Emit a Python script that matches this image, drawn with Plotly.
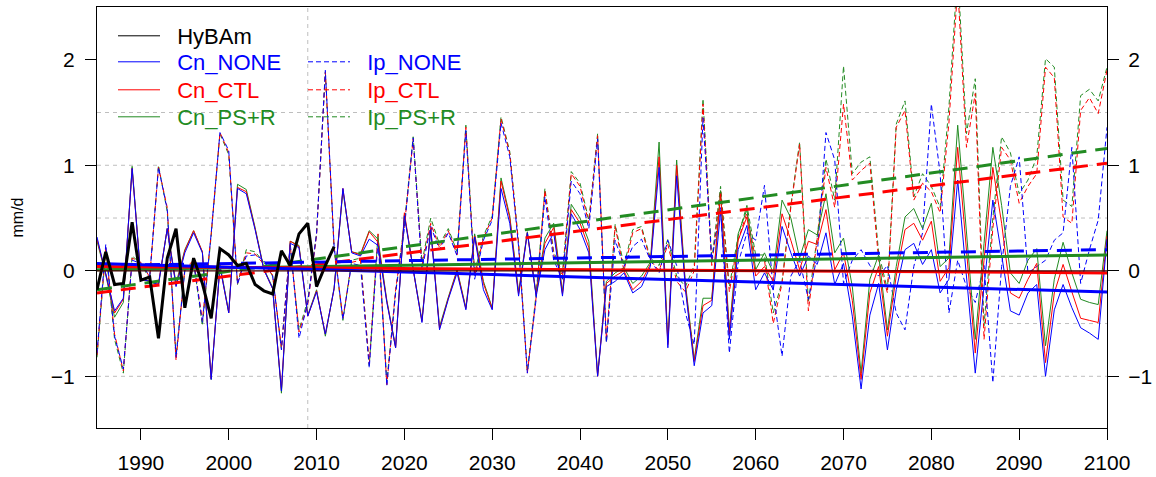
import plotly.graph_objects as go

# ---------------- data ----------------
YEARS = list(range(1985, 2101))
HYBAM_YEARS = list(range(1985, 2013))

HYBAM = [-0.18, 0.18, -0.13, -0.12, 0.46, -0.09, -0.06, -0.64, 0.12, 0.40,
         -0.35, 0.12, -0.12, -0.45, 0.21, 0.15, 0.05, 0.07, -0.13, -0.19,
         -0.22, 0.19, 0.05, 0.35, 0.45, -0.15, 0.05, 0.23]

CN_NONE = [0.32, -0.02, -0.38, -0.26, 0.97, -0.08, -0.10, -0.13, 0.40, -0.15,
           0.17, 0.36, 0.17, -1.03, 0.04, -0.40, 0.78, 0.73, 0.39, 0.01,
           -0.17, -1.14, 0.26, 0.22, -0.43, -0.20, -0.60, -0.17, 0.78, 0.17,
           0.14, 0.30, 0.24, -0.30, -0.73, 0.52, 0.00, -0.49, 0.39, -0.56,
           -0.27, -0.02, -0.37, 0.32, -0.18, -0.37, 0.78, 0.45, -0.24, 0.36,
           -0.24, 0.20, 0.36, -0.24, 0.54, 0.39, 0.17, -1.00, -0.15, -0.10,
           -0.02, -0.21, -0.15, 0.04, 0.98, -0.73, 0.90, -0.18, -0.90, -0.40,
           -0.33, 0.57, -0.65, 0.20, 0.43, -0.18, -0.02, -0.18, 0.42, 0.17,
           -0.05, 0.14, 0.06, 0.36, -0.13, 0.07, -0.43, -1.12, -0.42, -0.12,
           -0.75, -0.18, 0.20, 0.26, 0.06, 0.20, -0.21, -0.08, 0.86, -0.05,
           -0.97, -0.15, 0.67, 0.15, -0.38, -0.42, -0.21, -0.13, -1.00, -0.37,
           -0.13, -0.35, -0.54, -0.59, -0.65, 0.30]

CN_CTL = [0.30, -0.03, -0.40, -0.27, 0.97, -0.08, -0.10, -0.12, 0.40, -0.14,
          0.19, 0.38, 0.18, -1.02, 0.04, -0.40, 0.79, 0.75, 0.40, 0.01,
          -0.17, -1.13, 0.28, 0.23, -0.43, -0.19, -0.60, -0.17, 0.78, 0.18,
          0.15, 0.37, 0.27, -0.29, -0.73, 0.55, 0.01, -0.48, 0.41, -0.55,
          -0.26, 0.00, -0.36, 0.33, -0.12, -0.36, 0.85, 0.50, -0.22, 0.36,
          -0.23, 0.26, 0.41, -0.22, 0.58, 0.45, 0.22, -1.00, -0.12, -0.05,
          0.00, -0.18, -0.10, 0.06, 1.08, -0.70, 1.00, -0.15, -0.86, -0.33,
          -0.28, 0.73, -0.60, 0.29, 0.51, -0.05, 0.04, -0.10, 0.54, 0.29,
          0.01, 0.28, 0.25, 0.58, 0.01, 0.17, -0.28, -1.03, -0.21, 0.04,
          -0.62, -0.05, 0.39, 0.45, 0.29, 0.47, -0.10, 0.03, 1.17, 0.17,
          -0.78, 0.10, 0.98, 0.45, -0.21, -0.26, -0.08, 0.07, -0.87, -0.21,
          0.06, -0.20, -0.45, -0.47, -0.49, 0.33]

CN_PSR = [0.28, -0.04, -0.44, -0.30, 0.99, -0.07, -0.10, -0.14, 0.40, -0.12,
          0.20, 0.38, 0.18, -1.03, 0.06, -0.39, 0.82, 0.77, 0.41, 0.02,
          -0.16, -1.16, 0.28, 0.24, -0.42, -0.18, -0.62, -0.16, 0.76, 0.18,
          0.16, 0.38, 0.30, -0.28, -0.72, 0.53, 0.02, -0.47, 0.40, -0.53,
          -0.25, 0.01, -0.35, 0.35, -0.10, -0.35, 0.88, 0.52, -0.20, 0.37,
          -0.22, 0.31, 0.45, -0.20, 0.63, 0.50, 0.28, -0.99, -0.10, -0.02,
          0.03, -0.12, -0.05, 0.08, 1.22, -0.68, 1.05, -0.12, -0.84, -0.26,
          -0.26, 0.76, -0.56, 0.35, 0.58, 0.01, 0.17, -0.02, 0.67, 0.50,
          0.12, 0.39, 0.34, 0.73, 0.17, 0.31, -0.15, -0.97, -0.08, 0.15,
          -0.56, 0.04, 0.51, 0.59, 0.40, 0.64, 0.04, 0.12, 1.38, 0.35,
          -0.65, 0.26, 1.17, 0.62, -0.02, -0.12, 0.10, 0.21, -0.71, -0.08,
          0.27, -0.02, -0.27, -0.30, -0.32, 0.38]

IP_NONE = [-0.78, 0.25, -0.62, -0.93, 0.10, 0.07, -0.05, 0.98, 0.58, -0.82,
           0.00, 0.08, -0.49, 0.35, 1.31, 1.14, -0.13, 0.14, 0.15, 0.10,
           -0.05, -0.75, 0.26, -0.64, -0.30, 0.35, 1.90, 0.23, -0.46, 0.07,
           0.05, -0.92, 0.29, -1.09, -0.21, 0.40, 1.26, 0.01, 0.42, 0.20,
           0.36, 0.14, 1.33, -0.08, 0.29, 0.48, 1.40, 1.08, 0.23, -0.97,
           -0.27, 0.70, 0.10, -0.08, 0.85, 0.73, 0.40, 1.25, -0.68, 0.29,
           0.04, 0.23, 0.30, 0.10, -0.02, 0.29, 0.05, -0.40, -0.70, 1.45,
           0.10, 0.60, -0.78, 0.07, 0.36, 0.29, 0.81, -0.20, -0.81, -0.05,
           0.10, -0.27, 0.14, 1.31, 1.05, -0.12, 0.10, 0.20, 0.05, -0.05,
           0.05, -0.40, -0.56, 0.04, 0.36, 1.58, 0.92, -0.40, 0.10, -0.15,
           -0.30, 0.05, -1.06, 0.04, 0.80, 1.08, -0.02, 0.04, 0.10, 0.29,
           0.36, 1.17, -0.12, 0.20, 0.48, 1.36]

IP_CTL = [-0.80, 0.22, -0.60, -0.95, 0.12, 0.08, -0.06, 0.98, 0.60, -0.85,
          0.02, 0.10, -0.47, 0.35, 1.31, 1.12, -0.12, 0.17, 0.16, 0.06,
          -0.04, -0.73, 0.24, -0.58, -0.32, 0.34, 1.88, 0.22, -0.45, 0.08,
          0.10, -0.88, 0.35, -1.08, -0.18, 0.42, 1.25, 0.05, 0.45, 0.22,
          0.38, 0.15, 1.36, -0.05, 0.31, 0.50, 1.44, 1.11, 0.25, -0.97,
          -0.25, 0.76, 0.15, -0.05, 0.92, 0.80, 0.45, 1.28, -0.65, 0.42,
          0.00, 0.36, 0.40, 0.10, 0.00, 0.25, -0.10, -0.20, 0.00, 1.58,
          0.05, 0.76, -0.20, 0.29, 0.55, 0.10, 0.10, -0.50, -0.12, 0.60,
          1.20, -0.38, 0.29, 0.98, 0.60, 1.58, 0.86, 0.95, 1.02, 0.10,
          -0.21, 1.36, 1.52, 0.67, 0.83, 0.75, 0.55, 1.40, 2.70, 1.17,
          1.68, -0.65, 0.40, 1.17, 1.05, 0.64, 0.80, 0.92, 1.93, 1.83,
          0.51, 0.45, 1.52, 1.64, 1.49, 1.90]

IP_PSR = [-0.82, 0.20, -0.65, -0.97, 0.14, 0.07, -0.08, 1.00, 0.56, -0.80,
          0.01, 0.08, -0.52, 0.33, 1.30, 1.10, -0.13, 0.20, 0.18, 0.08,
          -0.05, -0.74, 0.22, -0.56, -0.28, 0.36, 1.88, 0.20, -0.47, 0.10,
          0.12, -0.90, 0.35, -1.05, -0.20, 0.45, 1.27, 0.08, 0.50, 0.25,
          0.40, 0.18, 1.38, -0.02, 0.33, 0.52, 1.46, 1.13, 0.27, -0.95,
          -0.22, 0.78, 0.18, -0.02, 0.94, 0.83, 0.48, 1.30, -0.68, 0.44,
          0.05, 0.39, 0.42, 0.12, 0.05, 0.30, -0.05, -0.15, 0.05, 1.63,
          0.10, 0.80, -0.15, 0.33, 0.62, 0.15, 0.15, -0.40, -0.10, 0.62,
          1.22, -0.30, 0.32, 1.06, 0.67, 1.94, 0.92, 1.03, 1.08, 0.17,
          -0.18, 1.39, 1.61, 0.70, 0.92, 0.80, 0.60, 1.55, 2.85, 1.30,
          1.82, -0.52, 0.50, 1.27, 1.12, 0.73, 0.86, 1.08, 2.01, 1.93,
          0.67, 0.61, 1.66, 1.72, 1.61, 1.93]

# linear trend end points (first year, last year)
TREND_YEARS = [1985, 2100]
CN_NONE_TREND = [0.07, -0.20]
CN_CTL_TREND = [0.04, -0.02]
CN_PSR_TREND = [0.01, 0.15]
IP_NONE_TREND = [0.05, 0.20]
IP_CTL_TREND = [-0.21, 1.02]
IP_PSR_TREND = [-0.18, 1.16]

X_TICKS = list(range(1990, 2101, 10))
Y_TICKS = [-1, 0, 1, 2]
Y_GRID = [-1, -0.5, 0.5, 1, 1.5]
X_GRID = [2009]
X_RANGE = [1985, 2100]
Y_RANGE = [-1.49, 2.50]

BLUE, RED, GREEN, BLACK = "#0000FF", "#FF0000", "#228B22", "#000000"
FONT = "Liberation Sans, Arial, sans-serif"
THIN_DASH = "5px,3px"
THICK_DASH = "15px,9px"
GAP = "\u00a0\u00a0"  # small gap between legend key and its label

fig = go.Figure()

thin_dashed = [("Ip_PS+R", IP_PSR, GREEN, "legend7"),
               ("Ip_CTL", IP_CTL, RED, "legend6"),
               ("Ip_NONE", IP_NONE, BLUE, "legend5")]
for name, vals, col, leg in thin_dashed:
    fig.add_trace(go.Scatter(x=YEARS, y=vals, mode="lines", name=GAP + name,
                             line=dict(color=col, width=1, dash=THIN_DASH),
                             legend=leg, showlegend=True))

thin_solid = [("Cn_PS+R", CN_PSR, GREEN, "legend4"),
              ("Cn_CTL", CN_CTL, RED, "legend3"),
              ("Cn_NONE", CN_NONE, BLUE, "legend2")]
for name, vals, col, leg in thin_solid:
    fig.add_trace(go.Scatter(x=YEARS, y=vals, mode="lines", name=GAP + name,
                             line=dict(color=col, width=1),
                             legend=leg, showlegend=True))

trends = [(IP_PSR_TREND, GREEN, THICK_DASH), (IP_CTL_TREND, RED, THICK_DASH),
          (IP_NONE_TREND, BLUE, THICK_DASH), (CN_PSR_TREND, GREEN, "solid"),
          (CN_CTL_TREND, RED, "solid"), (CN_NONE_TREND, BLUE, "solid")]
for vals, col, dash in trends:
    fig.add_trace(go.Scatter(x=TREND_YEARS, y=vals, mode="lines",
                             line=dict(color=col, width=3, dash=dash),
                             showlegend=False, hoverinfo="skip"))

fig.add_trace(go.Scatter(x=HYBAM_YEARS, y=HYBAM, mode="lines", name="HyBAm",
                         line=dict(color=BLACK, width=3), showlegend=False))
# legend key for HyBAm (thin line as in the original legend)
fig.add_trace(go.Scatter(x=[None], y=[None], mode="lines", name=GAP + "HyBAm",
                         line=dict(color=BLACK, width=1),
                         legend="legend", showlegend=True))

# grid lines and zero line
shapes = []
for g in Y_GRID:
    shapes.append(dict(type="line", xref="paper", yref="y", x0=0, x1=1, y0=g, y1=g,
                       line=dict(color="#BEBEBE", width=1, dash="4px,4px"), layer="below"))
for g in X_GRID:
    shapes.append(dict(type="line", xref="x", yref="paper", x0=g, x1=g, y0=0, y1=1,
                       line=dict(color="#BEBEBE", width=1, dash="4px,4px"), layer="below"))
shapes.append(dict(type="line", xref="paper", yref="y", x0=0, x1=1, y0=0, y1=0,
                   line=dict(color="#400000", width=1.2), layer="above"))

# legends: one per entry
L, T, PW, PH = 97, 7, 1010, 421
def px_x(x):
    return (x - L) / PW
def px_y(y):
    return 1 - (y - T) / PH

leg_rows = {"legend": (113, 36, BLACK), "legend2": (113, 62, BLUE),
            "legend3": (113, 90, RED), "legend4": (113, 117, GREEN),
            "legend5": (303, 62, BLUE), "legend6": (303, 90, RED),
            "legend7": (303, 117, GREEN)}
legends = {}
for key, (lx, ly, col) in leg_rows.items():
    legends[key] = dict(x=px_x(lx), y=px_y(ly), xanchor="left", yanchor="middle",
                        bgcolor="rgba(0,0,0,0)", borderwidth=0, itemwidth=42,
                        font=dict(family=FONT, size=22, color=col))

axis_common = dict(showline=True, linecolor="black", linewidth=1, ticks="outside",
                   ticklen=11, tickwidth=1, tickcolor="black", showgrid=False,
                   zeroline=False, tickfont=dict(family=FONT, size=21, color="black"))

fig.update_layout(
    width=1156, height=477,
    margin=dict(l=L, r=1156 - L - PW, t=T, b=477 - T - PH, autoexpand=False),
    paper_bgcolor="white", plot_bgcolor="white",
    font=dict(family=FONT, color="black"),
    shapes=shapes,
    xaxis=dict(range=X_RANGE, tickvals=X_TICKS, mirror=True,
               ticklabelstandoff=5, **axis_common),
    yaxis=dict(range=Y_RANGE, tickvals=Y_TICKS, mirror=True,
               ticklabelstandoff=6,
               title=dict(text="mm/d", font=dict(family=FONT, size=16), standoff=23),
               **axis_common),
    yaxis2=dict(range=Y_RANGE, tickvals=Y_TICKS, overlaying="y", side="right",
                ticklabelstandoff=5, **axis_common),
    hovermode=False,
    **legends,
)
# invisible point to activate the right axis
fig.add_trace(go.Scatter(x=[X_RANGE[0]], y=[Y_RANGE[0]], yaxis="y2", mode="markers",
                         marker=dict(opacity=0), showlegend=False, hoverinfo="skip"))

fig.write_html("out.html", config={"displayModeBar": False},
               post_script="document.body.style.margin='0px';document.body.style.padding='0px';")
